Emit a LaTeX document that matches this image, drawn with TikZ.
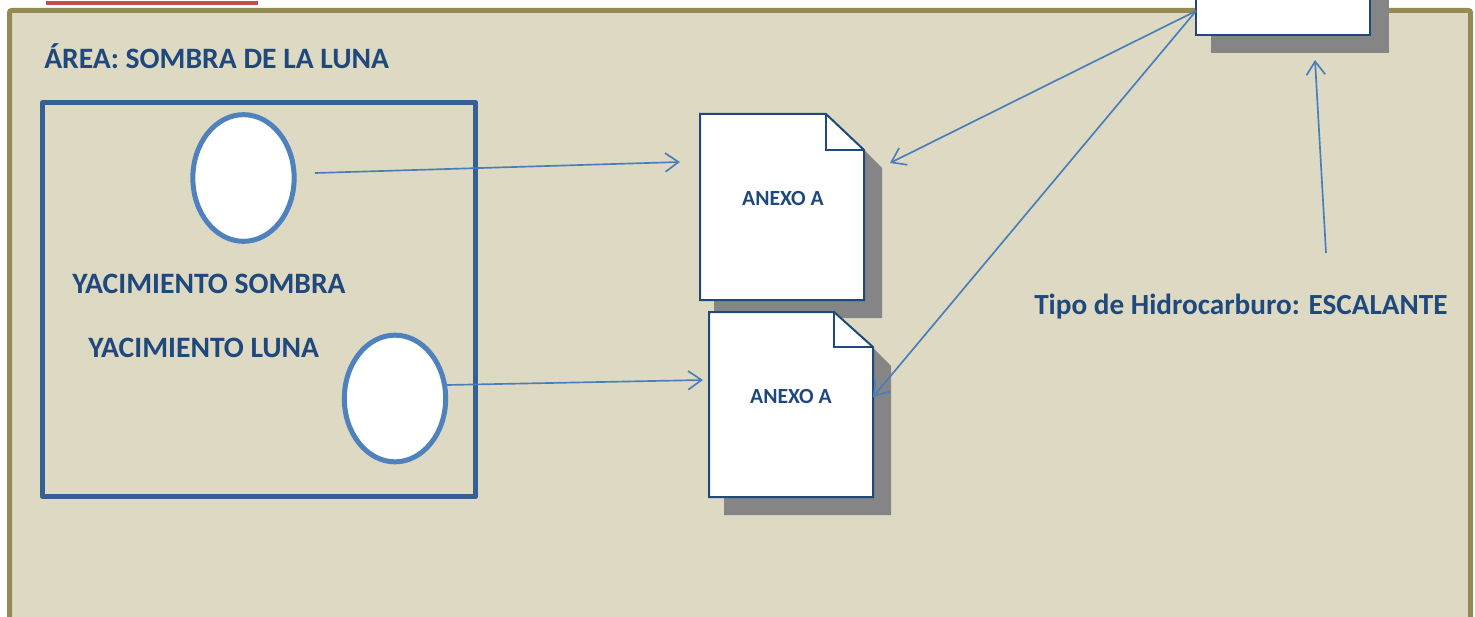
\documentclass[tikz,border=0pt]{standalone}
\usepackage{fontspec}
\setmainfont{Carlito}
\usetikzlibrary{arrows.meta,shapes.geometric}
\definecolor{panelfill}{HTML}{DDD9C3}
\definecolor{paneledge}{HTML}{948A54}
\definecolor{navyline}{HTML}{376092}
\definecolor{navytext}{HTML}{1F497D}
\definecolor{blueline}{HTML}{4F81BD}
\definecolor{arrowblue}{HTML}{4A7EBB}
\definecolor{shadowgrey}{HTML}{858585}
\definecolor{redline}{HTML}{C0504D}
\tikzset{
  x=0.75pt,y=-0.75pt,
  oval/.style={draw=blueline,line width=3.75pt,fill=white,ellipse,inner sep=0pt,minimum width=76pt,minimum height=95pt},
  docline/.style={draw=navytext,line width=1.5pt,line join=miter},
  shade/.style={fill=shadowgrey,draw=none},
  conn/.style={draw=arrowblue,line width=1.25pt,-{Straight Barb[length=10pt,width=14pt,line width=1.25pt]}},
  big/.style={font=\bfseries\fontsize{22.2}{26}\selectfont,text=navytext,inner sep=0pt,anchor=base west},
  tipofont/.style={font=\bfseries\fontsize{21.9}{26}\selectfont,text=navytext,inner sep=0pt,anchor=base west},
  small/.style={font=\bfseries\fontsize{16.2}{19}\selectfont,text=navytext,inner sep=0pt,anchor=center},
}
\begin{document}
\begin{tikzpicture}
\useasboundingbox (0,0) rectangle (1475,617);
\clip (0,0) rectangle (1475,617);
% red underline
\draw[redline,line width=2.6pt] (46,3) -- (258,3);
% panel
\draw[paneledge,fill=panelfill,line width=3.75pt,rounded corners=1.5pt] (9.5,640) -- (9.5,10.5) -- (1470.5,10.5) -- (1470.5,640) -- cycle;
\node[big] (area) at (44,69) {ÁREA: SOMBRA DE LA LUNA};
% field box
\node[draw=navyline,line width=3.75pt,inner sep=0pt,minimum width=325pt,minimum height=295.5pt,anchor=north west,line join=round] (field) at (40,100) {};
\node[oval] (sombra) at (243.5,178) {};
\node[oval] (luna) at (395,398.5) {};
\node[big] (ysombra) at (72,293) {YACIMIENTO SOMBRA};
\node[big] (yluna) at (88,357) {YACIMIENTO LUNA};
% doc 1
\fill[shade] (714,132) -- (846,132) -- (882,168) -- (882,318) -- (714,318) -- cycle;
\draw[docline,fill=white] (700,114) -- (826,114) -- (864,150) -- (864,300) -- (700,300) -- cycle;
\draw[docline] (826,114) -- (826,150) -- (864,150);
\node[small] (anexo1) at (783,198) {ANEXO A};
% doc 2
\fill[shade] (724,330) -- (855,330) -- (891,366) -- (891,515) -- (724,515) -- cycle;
\draw[docline,fill=white] (709,312) -- (834,312) -- (873,347) -- (873,497) -- (709,497) -- cycle;
\draw[docline] (834,312) -- (834,347) -- (873,347);
\node[small] (anexo2) at (791,396) {ANEXO A};
% top box
\fill[shade] (1211,-5) rectangle (1389,53);
\node[draw=navytext,fill=white,line width=1.5pt,inner sep=0pt,minimum width=130.5pt,minimum height=37.5pt,anchor=south west] (tipobox) at (1195,36) {};
\node[tipofont] (tipo) at (1034,314.5) {Tipo de Hidrocarburo: ESCALANTE};
% connector ends
\coordinate (a1) at (315,173);
\coordinate (b1) at (680,162);
\coordinate (a2) at (447,385);
\coordinate (b2) at (703,380);
\coordinate (c) at (1196,11);
\coordinate (d1) at (890,163);
\coordinate (d2) at (873,397);
\coordinate (e) at (1326,253);
\coordinate (f) at (1315,60);
\draw[conn] (a1) -- (b1);
\draw[conn] (a2) -- (b2);
\draw[conn] (c) -- (d1);
\draw[conn] (c) -- (d2);
\draw[conn] (e) -- (f);
\end{tikzpicture}
\end{document}
